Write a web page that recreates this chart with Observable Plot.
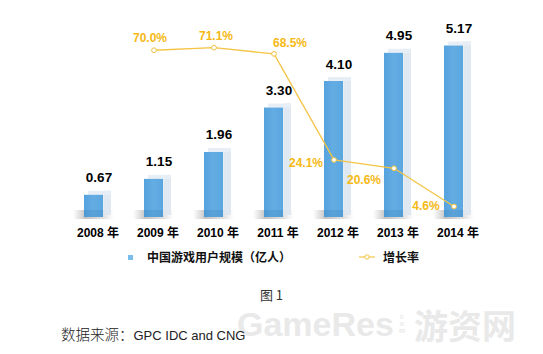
<!DOCTYPE html>
<html>
<head>
<meta charset="utf-8">
<script src="https://cdn.jsdelivr.net/npm/d3@7"></script>
<script src="https://cdn.jsdelivr.net/npm/@observablehq/plot@0.6"></script>
<style>
  html, body { margin: 0; padding: 0; background: #fff; }
  #wrap { position: relative; width: 543px; height: 354px; overflow: hidden; font-family: "Liberation Sans", "Noto Sans CJK SC", sans-serif; }
  #chart { position: absolute; left: 0; top: 0; }
  .abs { position: absolute; white-space: nowrap; }
  .leg { font-weight: bold; font-size: 12px; color: #111; line-height: 14px; }
  .wm { font-weight: bold; color: #e9e9e9; }
</style>
</head>
<body>
<div id="wrap">
  <div id="chart"></div>
  <div class="abs" style="left:128px; top:255px; width:5px; height:5px; background:#78bdec;"></div>
  <div class="abs leg" style="left:147px; top:250px; font-family:'Noto Sans CJK SC', sans-serif;">中国游戏用户规模（亿人）</div>
  <svg class="abs" style="left:358px; top:252px;" width="20" height="10">
    <line x1="1" y1="5" x2="17" y2="5" stroke="#f3c445" stroke-width="1.2"/>
    <circle cx="9" cy="5" r="2.2" fill="#fff" stroke="#f3c445" stroke-width="1"/>
  </svg>
  <div class="abs leg" style="left:383px; top:250px; font-family:'Noto Sans CJK SC', sans-serif;">增长率</div>
  <div class="abs wm" style="left:237px; top:312px; font-family:'Liberation Sans',sans-serif; font-size:34px; line-height:24px;">GameRes</div>
  <div class="abs wm" style="left:398px; top:313px; font-family:'Liberation Sans',sans-serif; font-size:7px; line-height:7px; width:8px; text-align:center; white-space:normal; word-break:break-all;">com</div>
  <div class="abs wm" style="left:414px; top:311px; font-family:'Noto Sans CJK SC',sans-serif; font-size:34px; line-height:28px;">游资网</div>
  <div class="abs" style="left:0; width:543px; top:288px; text-align:center; font-size:13px; color:#333; font-family:'Noto Sans CJK SC',sans-serif; line-height:13px;">图 1</div>
  <div class="abs" style="left:61px; top:325px; font-size:14.5px; color:#222; line-height:18px;"><span style="font-family:'Noto Sans CJK SC',sans-serif; font-weight:300;">数据来源：</span><span style="font-family:'Liberation Sans',sans-serif; font-size:13px;">GPC IDC and CNG</span></div>
</div>
<script>
const years = ["2008", "2009", "2010", "2011", "2012", "2013", "2014"];
const users = [0.67, 1.15, 1.96, 3.30, 4.10, 4.95, 5.17];
const rateYears = ["2009", "2010", "2011", "2012", "2013", "2014"];
const rates = [70.0, 71.1, 68.5, 24.1, 20.6, 4.6];
// label placement (pixels) for the growth-rate labels
const rateLabelOffsets = [[-4, -12], [2, -11], [16, -11], [-28, 3], [-30, 12], [-28, 0]];

const barData = years.map((y, i) => ({year: y, value: users[i]}));
const rateData = rateYears.map((y, i) => ({year: y, rate: rates[i]}));
// secondary axis: 0–83.3% spans the same height as 0–6
const k = 6 / 83.3;

const bw = 19.2;
const font = "'Liberation Sans', 'Noto Sans CJK SC', sans-serif";
const gold = "#f5b915";

const marks = [
  // floor shadow (behind)
  Plot.barY(barData, {x: "year", y1: 0, y2: 0, insetTop: -7, insetBottom: -2, insetLeft: -11, insetRight: -11, fill: "url(#shadowGrad)"}),
  // 3D side face
  Plot.barY(barData, {x: "year", y: "value", dx: bw, insetRight: bw - 8, insetTop: -4, insetBottom: 2, fill: "#dde7f0", fillOpacity: 0.9}),
  // 3D top face
  Plot.barY(barData, {x: "year", y1: "value", y2: "value", insetTop: -4, insetLeft: 4, insetRight: -8, fill: "#e8eef5"}),
  // front face
  Plot.barY(barData, {x: "year", y: "value", fill: "url(#frontGrad)"}),
  // darker floor band over front face
  Plot.barY(barData, {x: "year", y1: 0, y2: 0, insetTop: -7, fill: "#2f6fa8", fillOpacity: 0.18}),
  // value labels
  Plot.text(barData, {x: "year", y: "value", text: d => d3.format(".2f")(d.value), dx: 5, dy: -13, lineAnchor: "bottom",
    fontSize: 13.5, fontWeight: "bold", fill: "#000", fontFamily: font, style: "letter-spacing:0.9px"}),
  // year labels
  Plot.text(years, {x: d => d, y: () => 0, text: d => d + " 年", dx: 4, dy: 16, lineAnchor: "middle",
    fontSize: 12, fontWeight: "bold", fill: "#000", fontFamily: font}),
  // growth rate line
  Plot.line(rateData, {x: "year", y: d => d.rate * k, stroke: "#f3c445", strokeWidth: 1.3}),
  Plot.dot(rateData, {x: "year", y: d => d.rate * k, r: 2.4, fill: "#fff", stroke: "#f0c040", strokeWidth: 1}),
  ...rateData.map((d, i) => Plot.text([d], {x: "year", y: r => r.rate * k, text: r => d3.format(".1f")(r.rate) + "%",
    dx: rateLabelOffsets[i][0], dy: rateLabelOffsets[i][1], lineAnchor: "middle",
    fontSize: 12, fontWeight: "bold", fill: gold, fontFamily: font, style: "letter-spacing:0.5px"}))
];

const chart = Plot.plot({
  width: 543,
  height: 245,
  marginLeft: 63.5,
  marginRight: 59.5,
  marginTop: 18,
  marginBottom: 28,
  x: {domain: years, paddingInner: 0.68, paddingOuter: 0.34, axis: null},
  y: {domain: [0, 6], axis: null},
  style: {fontFamily: font, background: "transparent", overflow: "visible"},
  marks
});

const ns = "http://www.w3.org/2000/svg";
const defs = document.createElementNS(ns, "defs");
defs.innerHTML = `
  <linearGradient id="frontGrad" x1="0" x2="1" y1="0" y2="0">
    <stop offset="0" stop-color="#55a2de"/>
    <stop offset="0.5" stop-color="#64ade3"/>
    <stop offset="1" stop-color="#5aa6e0"/>
  </linearGradient>
  <linearGradient id="shadowGrad" x1="0" x2="1" y1="0" y2="0">
    <stop offset="0" stop-color="#666" stop-opacity="0"/>
    <stop offset="0.3" stop-color="#555" stop-opacity="0.35"/>
    <stop offset="0.75" stop-color="#777" stop-opacity="0.22"/>
    <stop offset="1" stop-color="#999" stop-opacity="0"/>
  </linearGradient>`;
chart.insertBefore(defs, chart.firstChild);
document.getElementById("chart").appendChild(chart);
</script>
</body>
</html>
